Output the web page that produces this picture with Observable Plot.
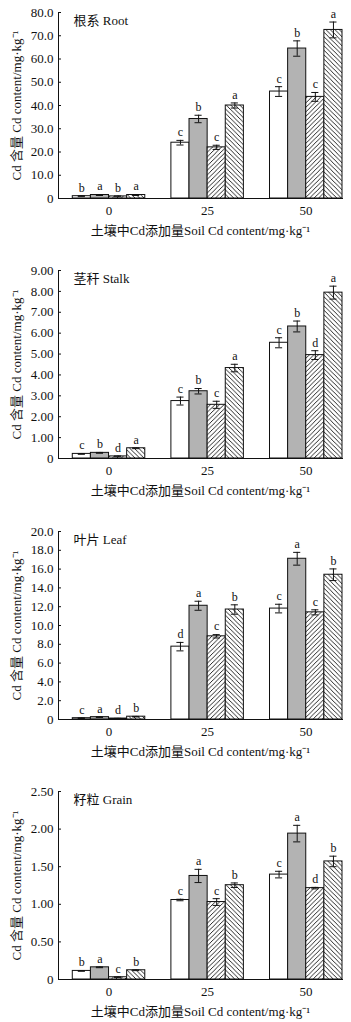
<!DOCTYPE html>
<html><head><meta charset="utf-8">
<script src="https://cdn.jsdelivr.net/npm/d3@7"></script>
<script src="https://cdn.jsdelivr.net/npm/@observablehq/plot@0.6"></script>
<style>
html,body{margin:0;padding:0;background:#fff;overflow:hidden;}
svg{display:block;}
</style>
</head><body>
<svg width="0" height="0" style="position:absolute">
  <defs>
    <pattern id="hatchF" patternUnits="userSpaceOnUse" width="4.5" height="4.5">
      <rect width="4.5" height="4.5" fill="#fff"/>
      <path d="M-1,1 l2,-2 M0,4.5 l4.5,-4.5 M3.5,5.5 l2,-2" stroke="#111" stroke-width="0.9"/>
    </pattern>
    <pattern id="hatchB" patternUnits="userSpaceOnUse" width="4.5" height="4.5">
      <rect width="4.5" height="4.5" fill="#fff"/>
      <path d="M-1,3.5 l2,2 M0,0 l4.5,4.5 M3.5,-1 l2,2" stroke="#111" stroke-width="0.9"/>
    </pattern>
  </defs>
</svg>
<div id="chart"></div>
<script>
const doses = ["0", "25", "50"];
const treatments = ["T1", "T2", "T3", "T4"];
const treatmentFills = ["#ffffff", "#b3b3b3", "url(#hatchF)", "url(#hatchB)"];

const xTitle = "土壤中Cd添加量Soil Cd content/mg·kg⁻¹";
const yTitle = "Cd 含量 Cd content/mg·kg⁻¹";

// Root
const rootMean = [1.0, 1.5, 0.9, 1.5, 24.0, 34.2, 22.0, 40.0, 46.0, 64.5, 43.7, 72.5];
const rootErr  = [0.2, 0.2, 0.2, 0.2, 1.0, 1.6, 0.9, 1.1, 2.1, 3.3, 1.9, 3.4];
const rootSig  = ["b","a","b","a","c","b","c","a","c","b","c","a"];
const rootTicks = [0, 10, 20, 30, 40, 50, 60, 70, 80];

// Stalk
const stalkMean = [0.22, 0.27, 0.10, 0.49, 2.75, 3.22, 2.57, 4.33, 5.54, 6.32, 4.95, 7.94];
const stalkErr  = [0.02, 0.02, 0.02, 0.02, 0.19, 0.13, 0.17, 0.18, 0.24, 0.26, 0.21, 0.31];
const stalkSig  = ["c","b","d","a","c","b","c","a","c","b","d","a"];
const stalkTicks = [0, 1, 2, 3, 4, 5, 6, 7, 8, 9];

// Leaf
const leafMean = [0.14, 0.25, 0.10, 0.30, 7.75, 12.1, 8.85, 11.7, 11.8, 17.1, 11.4, 15.4];
const leafErr  = [0.03, 0.03, 0.02, 0.03, 0.45, 0.48, 0.18, 0.50, 0.46, 0.68, 0.27, 0.62];
const leafSig  = ["c","a","d","b","d","a","c","b","c","a","c","b"];
const leafTicks = [0, 2, 4, 6, 8, 10, 12, 14, 16, 18, 20];

// Grain
const grainMean = [0.114, 0.162, 0.03, 0.123, 1.057, 1.377, 1.03, 1.254, 1.395, 1.94, 1.215, 1.57];
const grainErr  = [0.005, 0.005, 0.005, 0.005, 0.01, 0.088, 0.045, 0.03, 0.044, 0.11, 0.01, 0.07];
const grainSig  = ["b","a","c","b","c","a","c","b","c","a","d","b"];
const grainTicks = [0, 0.5, 1.0, 1.5, 2.0, 2.5];

const panels = [
  {title: "根系 Root", mean: rootMean, err: rootErr, sig: rootSig, ticks: rootTicks, digits: 1,
   height: 260, marginTop: 12, marginBottom: 62},
  {title: "茎秆 Stalk", mean: stalkMean, err: stalkErr, sig: stalkSig, ticks: stalkTicks, digits: 2,
   height: 260, marginTop: 10, marginBottom: 62},
  {title: "叶片 Leaf", mean: leafMean, err: leafErr, sig: leafSig, ticks: leafTicks, digits: 1,
   height: 260, marginTop: 11, marginBottom: 61},
  {title: "籽粒 Grain", mean: grainMean, err: grainErr, sig: grainSig, ticks: grainTicks, digits: 2,
   height: 242, marginTop: 11, marginBottom: 43}
];

const font = "'Liberation Serif', 'Noto Sans CJK SC', serif";

function makePanel(p) {
  const rows = [];
  doses.forEach((d, i) => treatments.forEach((t, j) => {
    const k = i * treatments.length + j;
    rows.push({dose: d, t, v: p.mean[k], e: p.err[k], sig: p.sig[k]});
  }));
  const ymax = p.ticks[p.ticks.length - 1];
  return Plot.plot({
    width: 351,
    height: p.height,
    marginLeft: 58,
    marginRight: 9,
    marginTop: p.marginTop,
    marginBottom: p.marginBottom,
    style: {fontFamily: font, fontSize: "13px", color: "#111", background: "#fff"},
    fx: {domain: doses, paddingInner: 0.12, paddingOuter: 0, round: false, label: null},
    x: {domain: treatments, paddingInner: 0, paddingOuter: 0.394, align: 1, round: false, axis: null},
    y: {domain: [0, ymax], label: null},
    color: {domain: treatments, range: treatmentFills},
    marks: [
      Plot.barY(rows, {fx: "dose", x: "t", y: "v", fill: "t", stroke: "#111", strokeWidth: 1}),
      Plot.ruleX(rows, {fx: "dose", x: "t", y1: d => d.v - d.e, y2: d => d.v + d.e, stroke: "#111", strokeWidth: 1}),
      Plot.tickY(rows, {fx: "dose", x: "t", y: d => d.v + d.e, stroke: "#111", strokeWidth: 1, insetLeft: 5.5, insetRight: 5.5}),
      Plot.tickY(rows, {fx: "dose", x: "t", y: d => d.v - d.e, stroke: "#111", strokeWidth: 1, insetLeft: 5.5, insetRight: 5.5}),
      Plot.text(rows, {fx: "dose", x: "t", y: d => d.v + d.e, text: "sig", dy: -8, fontSize: 12, fill: "#111"}),
      Plot.text([{dose: "0", label: p.title}], {fx: "dose", text: "label", frameAnchor: "top-left", dx: 15, dy: 3, fontSize: 13, textAnchor: "start", fill: "#111"}),
      Plot.axisY({ticks: p.ticks, tickSize: -3, tickPadding: 8, tickFormat: v => v === 0 ? "0" : v.toFixed(p.digits),
        label: yTitle, labelAnchor: "center", labelOffset: 47, labelArrow: "none", fontSize: 13}),
      Plot.axisFx({anchor: "bottom", tickSize: 0, tickPadding: 7, dx: 7, label: xTitle, labelAnchor: "center", labelOffset: 36, labelArrow: "none", fontSize: 13}),
      Plot.frame({facet: "super", anchor: "left", stroke: "#111"}),
      Plot.frame({facet: "super", anchor: "bottom", stroke: "#111"})
    ]
  });
}

const root = document.getElementById("chart");
for (const p of panels) root.appendChild(makePanel(p));
</script>
</body></html>
